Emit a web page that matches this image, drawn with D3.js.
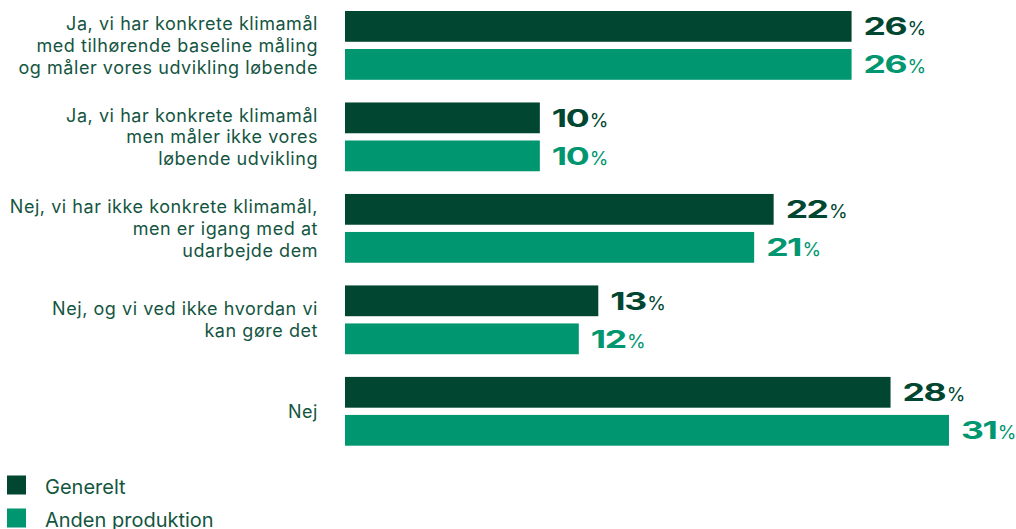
<!DOCTYPE html>
<html>
<head>
<meta charset="utf-8">
<script src="https://cdn.jsdelivr.net/npm/d3@7"></script>
<style>
  html, body { margin: 0; padding: 0; background: #fff; }
  svg { display: block; }
</style>
</head>
<body>
<div id="chart"></div>
<script>
(() => {
  // categories (each label split into its lines)
  const categories = [
    ["Ja, vi har konkrete klimamål", "med tilhørende baseline måling", "og måler vores udvikling løbende"],
    ["Ja, vi har konkrete klimamål", "men måler ikke vores", "løbende udvikling"],
    ["Nej, vi har ikke konkrete klimamål,", "men er igang med at", "udarbejde dem"],
    ["Nej, og vi ved ikke hvordan vi", "kan gøre det"],
    ["Nej"]
  ];
  const series = ["Generelt", "Anden produktion"];
  const generelt = [26, 10, 22, 13, 28];
  const andenProduktion = [26, 10, 21, 12, 31];
  const colors = ["#004631", "#00966f"];

  const width = 1016, height = 529;
  const textColor = "#14553f";
  const sx = 1.45; // horizontal stretch for the wide value digits

  const svg = d3.select("#chart")
    .append("svg")
    .attr("width", width)
    .attr("height", height);

  const keys = categories.map((c, i) => "c" + i);
  const values = [generelt, andenProduktion];

  // scales
  let yGroup = d3.scaleBand()
    .domain(keys)
    .range([11, 445.7])
    .paddingInner(0.248)
    .paddingOuter(0);

  let ySeries = d3.scaleBand()
    .domain(series)
    .range([0, yGroup.bandwidth()])
    .paddingInner(0.19);

  let xScale = d3.scaleLinear()
    .domain([0, d3.max(values.flat())])
    .range([345, 949]);

  const groups = svg.selectAll(".group")
    .data(keys)
    .enter().append("g")
    .attr("class", "group")
    .attr("transform", d => `translate(0,${yGroup(d)})`);

  groups.each(function(k, i) {
    const g = d3.select(this);
    series.forEach((s, j) => {
      const v = values[j][i];
      const y = ySeries(s);
      g.append("rect")
        .attr("x", xScale(0))
        .attr("y", y)
        .attr("width", xScale(v) - xScale(0))
        .attr("height", ySeries.bandwidth())
        .attr("fill", colors[j]);

      // value label: wide bold digits + light percent sign
      const lx = xScale(v) + 12;
      const ly = y + ySeries.bandwidth() / 2 + 9;
      const num = g.append("text")
        .attr("transform", `translate(${lx},${ly}) scale(${sx},1)`)
        .attr("fill", colors[j])
        .style("font-family", "Inter, sans-serif")
        .style("font-weight", 700)
        .style("font-size", "24.5px")
        .style("letter-spacing", "-1px")
        .text(v);
      const w = num.node().getComputedTextLength() * sx;
      g.append("text")
        .attr("x", lx + w + 1.5)
        .attr("y", ly - 0.3)
        .attr("fill", colors[j])
        .style("font-family", "Inter, sans-serif")
        .style("font-weight", 400)
        .style("font-size", "19px")
        .text("%");
    });

    // category label, vertically centered on the group
    const lines = categories[i];
    const lineH = 21.7;
    const mid = yGroup.bandwidth() / 2;
    const label = g.append("text")
      .attr("text-anchor", "end")
      .attr("fill", textColor)
      .style("font-family", "Inter, sans-serif")
      .style("font-size", "18px")
      .style("letter-spacing", "0.55px");
    lines.forEach((line, li) => {
      label.append("tspan")
        .attr("x", 318)
        .attr("y", mid + 6.5 + (li - (lines.length - 1) / 2) * lineH)
        .text(line);
    });
  });

  // Legend
  const legend = svg.append("g")
    .attr("transform", "translate(7,475.5)");

  series.forEach((s, i) => {
    legend.append("rect")
      .attr("x", 0)
      .attr("y", i * 33)
      .attr("width", 19)
      .attr("height", 19)
      .attr("fill", colors[i]);

    legend.append("text")
      .attr("x", 38)
      .attr("y", i * 33 + 18.5)
      .attr("fill", textColor)
      .style("font-family", "Inter, sans-serif")
      .style("font-size", "20px")
      .text(s);
  });
})();
</script>
</body>
</html>
